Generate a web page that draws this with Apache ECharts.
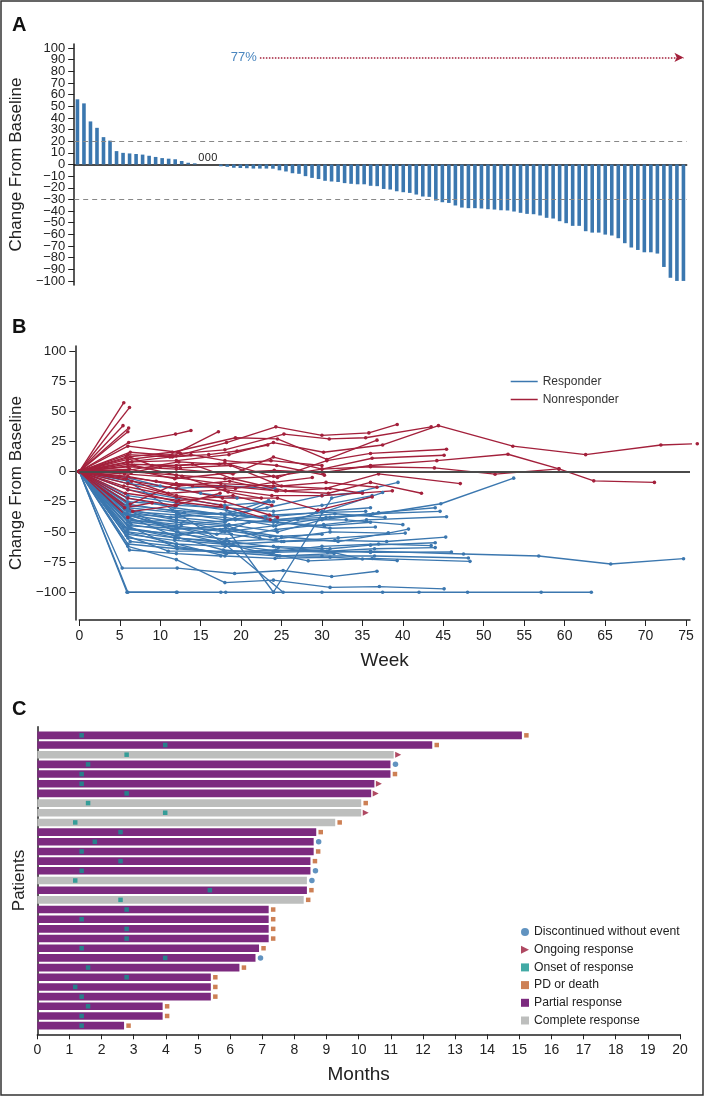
<!DOCTYPE html>
<html><head><meta charset="utf-8">
<script src="https://cdn.jsdelivr.net/npm/echarts@6/dist/echarts.min.js"></script>
<style>html,body{margin:0;padding:0;background:#fff}#c{width:708px;height:1097px}</style>
</head><body><div id="c"></div>
<script>
// ---------- Panel A: waterfall ----------
const waterfallValues = [56, 52.5, 37, 31.5, 23.5, 20.5, 11.5, 10, 9.5, 9, 8.5, 7.5, 6.5, 5.5, 5, 4.5, 3, 1.5, 1,
  0, 0, 0,
  -1.5, -2, -2.8, -3, -3.2, -3.5, -3.5, -3.5, -3.6, -5, -6, -7.5, -8, -10, -11.5, -12.5, -14, -14.6, -15, -16, -16.6, -17,
  -17, -18.3, -18.6, -21, -21.5, -23, -23.8, -24.4, -25.8, -27.5, -27.8, -31, -32.4, -33, -35.2, -37, -37.5, -37.5, -37.8,
  -38.4, -38.7, -39.3, -39.5, -40.4, -41.5, -42.4, -42.7, -43.8, -45.8, -46.4, -48.7, -50.4, -52.7, -52.7, -57.3, -58.5,
  -58.5, -60.2, -61, -63.3, -67.6, -71.3, -73.4, -75.4, -75.4, -76.5, -88, -97.3, -100, -100];
const waterfallTicks = [100, 90, 80, 70, 60, 50, 40, 30, 20, 10, 0, -10, -20, -30, -40, -50, -60, -70, -80, -90, -100];
const thresholdLines = [20, -30];
const responseRateLabel = '77%';
const responseArrowLevel = 92;

// ---------- Panel B: spider plot ----------
const weekTicks = [0, 5, 10, 15, 20, 25, 30, 35, 40, 45, 50, 55, 60, 65, 70, 75];
const changeTicks = [100, 75, 50, 25, 0, -25, -50, -75, -100];
const responderCurves = [
  [[0,0],[5.9,-100],[12,-100],[17.5,-100],[18.1,-100],[24,-100],[30,-100],[37.5,-100],[42,-100],[48,-100],[57.1,-100],[63.3,-100]],
  [[0,0],[6,-100],[12.1,-100]],
  [[0,0],[5.3,-80],[12.1,-80],[19.2,-84.5],[25.2,-82],[31.2,-87],[36.8,-82.6]],
  [[0,0],[6,-62],[12,-73],[18,-92],[24,-90],[31,-96],[37.1,-95.3],[45.1,-97.2]],
  [[0,0],[5.8,-53],[11,-66],[18,-66],[24,-66],[30,-65],[35,-72.5]],
  [[0,0],[6,-45],[12,-63],[18,-67],[24.3,-65],[30.7,-67],[36,-66],[47.5,-68.3],[56.8,-70],[65.7,-76.6],[74.7,-72.2]],
  [[0,0],[6,-33],[12,-40],[18.5,-50],[24,-100],[31.2,-22],[39.4,-9]],
  [[0,0],[6,-8],[12.3,-35],[18,-60],[25.2,-100]],
  [[0,0],[6,-10],[12,-14],[18,-12],[24.2,-14]],
  [[0,0],[5.5,-35],[12,-38],[18,-42],[23.5,-25]],
  [[0,0],[6,-30],[12,-34],[18,-40],[24,-36],[30,-34],[37.5,-17.4]],
  [[0,0],[6,-40],[12,-45],[18,-50],[24,-45],[31,-38],[36,-36],[44.7,-26.7],[53.7,-5.5]],
  [[0,0],[6.2,-42],[12,-40],[18.5,-44],[24.5,-50],[30,-40],[37,-34],[44,-30]],
  [[0,0],[5.8,-35],[11.5,-48],[18,-45],[23.5,-40],[30.5,-38],[36.3,-35],[44.6,-33]],
  [[0,0],[6,-48],[12.5,-52],[18.2,-56],[24.3,-48],[30.2,-44],[35.5,-40],[45.4,-37.5]],
  [[0,0],[6,-50],[11.8,-55],[18,-58],[24.3,-56],[31,-50],[38.2,-51],[40.7,-47.7]],
  [[0,0],[6.4,-44],[12.2,-50],[18.8,-52],[25,-58],[32,-55],[40.3,-51]],
  [[0,0],[5.5,-46],[12,-55],[19,-60],[25.3,-58],[31.6,-57],[38,-58],[45.3,-54.3]],
  [[0,0],[6,-55],[12,-60],[18,-62],[24,-62],[31,-64],[36,-61],[44,-59]],
  [[0,0],[6,-52],[11.8,-57],[17.7,-60],[24.5,-66],[30,-62],[37,-60],[43.5,-61.4]],
  [[0,0],[6.3,-58],[12,-62],[18.2,-68],[24,-67],[30.8,-66],[36.5,-64],[44,-63]],
  [[0,0],[5.8,-36],[12,-46],[18.5,-58],[24.6,-63],[30.6,-66],[36,-67],[46,-66.7]],
  [[0,0],[6,-32],[12,-50],[18,-60],[24.5,-70],[30,-70],[36.5,-70],[48.1,-71.6]],
  [[0,0],[6.2,-38],[12.3,-55],[17.8,-65],[23.8,-68],[28.3,-74],[36.2,-72],[48.3,-74.4]],
  [[0,0],[5.7,-50],[12,-60],[18,-70],[24.2,-72],[31,-71],[39.3,-73.8]],
  [[0,0],[6.3,-33],[12,-36],[18,-38],[24.3,-45],[30,-33],[36,-30]],
  [[0,0],[5.8,-28],[11.5,-32],[17.5,-35],[23,-38],[29.3,-34],[35.4,-33]],
  [[0,0],[6,-25],[12,-28],[18,-30],[24,-33],[30,-28],[36.2,-20]],
  [[0,0],[6.5,-40],[12.6,-44],[19.3,-40],[24,-42],[30.3,-45],[36,-42]],
  [[0,0],[6.1,-45],[12,-47],[17.4,-48],[23.6,-54],[30,-52]],
  [[0,0],[5.6,-31],[11.3,-38],[18.6,-34],[23.4,-24]],
  [[0,0],[6.3,-36],[12,-42],[18.4,-45],[22.3,-55]],
  [[0,0],[6,-20],[12,-26],[18.2,-32],[24.5,-42],[31,-47],[36.6,-46]],
  [[0,0],[5.9,-22],[11.8,-30],[18,-36],[23.2,-30],[30,-20],[35,-17]],
  [[0,0],[6,-60],[12.1,-64],[18,-67],[24.8,-70],[31.5,-68]],
  [[0,0],[6.2,-47],[12,-53],[18.1,-47],[25,-54],[32,-58],[38.2,-51]],
  [[0,0],[6,-42],[12,-46],[17,-52],[21,-42],[27,-40],[33,-40],[40,-44]],
  [[0,0],[6,-27],[13,-34],[19,-36],[24.2,-40],[31.6,-35],[37.8,-38]],
  [[0,0],[6,-15],[12,-22],[18,-28],[24,-25]],
  [[0,0],[6.2,-65],[12,-68],[17.5,-70]],
  [[0,0],[5.9,-5],[10,-12],[15,-18],[19.5,-22]]
];
const nonresponderCurves = [
  [[0,0],[5.5,57]],
  [[0,0],[6.2,53]],
  [[0,0],[5.4,38]],
  [[0,0],[6.1,36]],
  [[0,0],[6.0,33]],
  [[0,0],[6.1,24],[11.9,31],[13.8,34]],
  [[0,0],[6.0,21],[12.2,16],[17.2,33]],
  [[0,0],[6.3,16],[12,13],[18.2,24],[24.3,37],[30,30],[35.8,32],[39.3,39]],
  [[0,0],[5.8,12],[11.5,16],[19.3,28],[24.5,27],[30.6,10],[36.8,26]],
  [[0,0],[6,10],[12.5,15],[18,18],[25.3,31],[30.9,27],[35.4,28],[43.5,37]],
  [[0,0],[6.5,8],[12,9],[18.5,14],[24,24],[30.2,16],[37.5,22],[44.4,38],[53.6,21],[62.6,14],[71.9,22],[76.4,23]],
  [[0,0],[6,6],[12,5],[18,7],[24.5,-5],[30.6,9],[36,15],[45.4,18.5]],
  [[0,0],[6,4],[12,2],[19,-2],[24,12],[30,2],[36.2,11],[45.1,13.5]],
  [[0,0],[6.2,2],[11.8,-6],[18.8,-1],[24.1,1],[30.1,-1],[36,5],[44.2,9],[53,14.3],[59.3,2.2],[63.6,-7.7],[71.1,-9]],
  [[0,0],[6,0],[12,-3],[18,-6],[24,-4],[30,2],[36,4],[43.9,3],[51.4,-2.2],[59.3,2.2]],
  [[0,0],[5.6,-2],[12,-5],[17.5,-10],[24,-12],[30.5,-14],[37,-2],[47.1,-10]],
  [[0,0],[6,-4],[12.3,-12],[18.6,-8],[24.3,-16],[30.8,-18],[36,-9],[42.3,-18]],
  [[0,0],[5.8,-6],[11,-18],[18,-15],[23.8,-20],[30,-20],[38.7,-16]],
  [[0,0],[6.5,-8],[12,-14],[17.7,-22],[24.5,-22],[29.5,-32],[36.2,-21]],
  [[0,0],[6,-10],[12,-20],[18,-25],[23.5,-36],[24.5,-38]],
  [[0,0],[5.5,-12],[12,-21],[17.5,-28],[23.6,-40]],
  [[0,0],[6,-15],[12,-25],[18.3,-30]],
  [[0,0],[5.7,-18],[12.3,-24],[19,-20],[23.8,-28]],
  [[0,0],[6,-22],[11.8,-28],[17.4,-18]],
  [[0,0],[6.3,-27],[12,-10],[18,-12],[24.5,-16]],
  [[0,0],[5.6,-30],[9,-26]],
  [[0,0],[6,-38]],
  [[0,0],[6.6,-33],[12,-28]],
  [[0,0],[6.3,12],[9,5],[12.5,3],[18.7,5],[25,-12],[30.5,-9],[36.8,-13]],
  [[0,0],[6,14],[11.5,12],[13.8,14],[18,9],[24.4,5],[30.3,-3]],
  [[0,0],[5.9,8],[11.2,12],[16,14],[19.5,17],[23.3,22]],
  [[0,0],[6.4,-1],[10,4],[14,6],[19,-6],[25.5,-16],[31,-14],[35,-18]],
  [[0,0],[5,-4],[9.5,-8],[14,-12],[19.3,-14],[24,-9],[28.8,-5]],
  [[0,0],[6.8,5],[12.7,-4],[18.4,-17],[22.5,-22]],
  [[0,0],[6,1],[12.3,8],[17.3,6],[23.7,9],[30,5]]
];

// ---------- Panel C: swimmer plot ----------
const monthTicks = [0,1,2,3,4,5,6,7,8,9,10,11,12,13,14,15,16,17,18,19,20];
const patientEndMonth = [15.08, 12.29, 11.09, 10.99, 10.99, 10.49, 10.39, 10.08, 10.08, 9.27, 8.68, 8.6, 8.6, 8.5, 8.5, 8.39,
  8.39, 8.29, 7.2, 7.2, 7.2, 7.2, 6.9, 6.79, 6.29, 5.4, 5.4, 5.4, 3.9, 3.9, 2.7];
const patientResponse = ['PR','PR','CR','PR','PR','PR','PR','CR','CR','CR','PR','PR','PR','PR','PR','CR',
  'PR','CR','PR','PR','PR','PR','PR','PR','PR','PR','PR','PR','PR','PR','PR'];
const onsetMonth = [1.38, 3.98, 2.78, 1.58, 1.38, 1.38, 2.78, 1.58, 3.98, 1.18, 2.59, 1.79, 1.38, 2.59, 1.38, 1.18,
  5.37, 2.59, 2.78, 1.38, 2.78, 2.78, 1.38, 3.98, 1.58, 2.78, 1.18, 1.38, 1.58, 1.38, 1.38];
const endEvent = ['PD','PD','Ongoing','Disc','PD','Ongoing','Ongoing','PD','Ongoing','PD','PD','Disc','PD','PD','Disc','Disc',
  'PD','PD','PD','PD','PD','PD','PD','Disc','PD','PD','PD','PD','PD','PD','PD'];

const FONT = 'Liberation Sans';
const BLUE = '#3b77af', RED = '#a3203b';
const PURPLE = '#7c2a7f', GRAY = '#bdbebd', TEAL = '#13958f', ORANGE = '#c0602a', DRED = '#9b1b3b', DBLUE = '#3a78b0';
const TRI = 'path://M0,0L10,5L0,10Z';
const fmtNum = v => v < 0 ? '\u2212' + Math.abs(v) : String(v);

const chart = echarts.init(document.getElementById('c'), null, {renderer: 'canvas'});

const patientIdx = patientEndMonth.map((_, i) => String(i));
const lastBar = waterfallValues.length - 1;
// split tick labels into two interleaved sets so none get auto-hidden
const waterfallTicksA = waterfallTicks.filter((_, i) => i % 2 === 0);
const waterfallTicksB = waterfallTicks.filter((_, i) => i % 2 === 1);
const series = [];

// Panel A bars
series.push({
  type: 'bar', xAxisIndex: 0, yAxisIndex: 0, barWidth: 3.6,
  itemStyle: {color: BLUE},
  data: waterfallValues.map(v => v === 0 ? {value: 0, label: {show: true, position: 'top', distance: 1, formatter: '0', fontSize: 11, color: '#222', fontFamily: FONT}} : v),
  markLine: {
    silent: true, symbol: 'none',
    data: thresholdLines.map(t => ({yAxis: t, lineStyle: {color: '#888', type: [5, 4], width: 1}, label: {show: false}}))
  }
});
// Panel A: response-rate arrow (annotation)
series.push({
  type: 'line', xAxisIndex: 0, yAxisIndex: 0, data: [], silent: true,
  markLine: {
    silent: true, symbol: ['none', 'arrow'], symbolSize: [7, 9],
    lineStyle: {color: RED, type: [1.5, 1.5], width: 1.6},
    label: {show: true, position: 'start', formatter: responseRateLabel, color: '#4a86bf', fontSize: 13, fontFamily: FONT, distance: 3},
    data: [[{coord: ['28', responseArrowLevel]}, {coord: [String(lastBar), responseArrowLevel]}]]
  }
});

// Panel B lines
const mkLine = (d, name, color) => ({
  type: 'line', name, xAxisIndex: 1, yAxisIndex: 1, data: d, clip: false,
  symbol: 'circle', symbolSize: 3.6, showSymbol: true,
  lineStyle: {width: 1.35, color}, itemStyle: {color},
  emphasis: {disabled: true}, z: 2
});
const firstB = series.length;
responderCurves.forEach(d => series.push(mkLine(d, 'Responder', BLUE)));
nonresponderCurves.forEach(d => series.push(mkLine(d, 'Nonresponder', RED)));
series[firstB].markLine = {silent: true, symbol: 'none', data: [{yAxis: 0}], lineStyle: {color: '#4a4a4a', width: 2, type: 'solid'}, label: {show: false}};

// Panel C
series.push({
  type: 'bar', name: 'Partial response', xAxisIndex: 2, yAxisIndex: 2, stack: 'dur', barWidth: 7.6,
  itemStyle: {color: PURPLE},
  data: patientEndMonth.map((v, i) => patientResponse[i] === 'PR' ? v : '-')
});
series.push({
  type: 'bar', name: 'Complete response', xAxisIndex: 2, yAxisIndex: 2, stack: 'dur', barWidth: 7.6,
  itemStyle: {color: GRAY},
  data: patientEndMonth.map((v, i) => patientResponse[i] === 'CR' ? v : '-')
});
series.push({
  type: 'scatter', name: 'Onset of response', xAxisIndex: 2, yAxisIndex: 2, symbol: 'rect', symbolSize: 4.5,
  itemStyle: {color: TEAL}, z: 5,
  data: onsetMonth.map((m, i) => [m, i])
});
series.push({
  type: 'scatter', name: 'PD or death', xAxisIndex: 2, yAxisIndex: 2, symbol: 'rect', symbolSize: 4.5, symbolOffset: [4.5, 0],
  itemStyle: {color: ORANGE}, z: 5,
  data: patientEndMonth.map((m, i) => endEvent[i] === 'PD' ? [m, i] : null).filter(Boolean)
});
series.push({
  type: 'scatter', name: 'Ongoing response', xAxisIndex: 2, yAxisIndex: 2, symbol: TRI, symbolSize: [6, 6], symbolOffset: [4.5, 0],
  itemStyle: {color: DRED}, z: 5,
  data: patientEndMonth.map((m, i) => endEvent[i] === 'Ongoing' ? [m, i] : null).filter(Boolean)
});
series.push({
  type: 'scatter', name: 'Discontinued without event', xAxisIndex: 2, yAxisIndex: 2, symbol: 'circle', symbolSize: 5.5, symbolOffset: [5, 0],
  itemStyle: {color: DBLUE}, z: 5,
  data: patientEndMonth.map((m, i) => endEvent[i] === 'Disc' ? [m, i] : null).filter(Boolean)
});
series.push({type: 'scatter', xAxisIndex: 3, yAxisIndex: 3, data: []});
series.push({type: 'scatter', xAxisIndex: 0, yAxisIndex: 4, data: []});

const axisTxt = {color: '#222', fontSize: 13, fontFamily: FONT};
const nameTxt = {color: '#222', fontSize: 17, fontFamily: FONT};
const blackLine = {show: true, onZero: false, lineStyle: {color: '#222', width: 1.5}};

chart.setOption({
  animation: false,
  textStyle: {fontFamily: FONT},
  grid: [
    {left: 73.7, top: 44, width: 613, height: 241},
    {left: 77, top: 346, width: 613, height: 274},
    {left: 37.3, top: 730.5, width: 642.7, height: 300},
    {left: 37.3, top: 726.7, width: 642.7, height: 307.6}
  ],
  xAxis: [
    {type: 'category', gridIndex: 0, data: waterfallValues.map((_, i) => String(i)),
     axisLine: {show: true, onZero: true, lineStyle: {color: '#111', width: 1.5}}, axisTick: {show: false}, axisLabel: {show: false}},
    {type: 'value', gridIndex: 1, min: 0, max: 75.5, splitLine: {show: false},
     axisLine: blackLine, axisTick: {show: true, length: 6, customValues: weekTicks, lineStyle: {color: '#222'}},
     axisLabel: {customValues: weekTicks, margin: 9, fontSize: 14, color: '#222', fontFamily: FONT},
     name: 'Week', nameLocation: 'middle', nameGap: 31, nameTextStyle: {color: '#222', fontSize: 19, fontFamily: FONT}},
    {type: 'value', gridIndex: 2, min: 0, max: 20, show: false},
    {type: 'value', gridIndex: 3, min: 0, max: 20, interval: 1, splitLine: {show: false},
     axisLine: blackLine, axisTick: {show: true, length: 5, lineStyle: {color: '#222'}},
     axisLabel: Object.assign({margin: 9}, axisTxt, {fontSize: 14}),
     name: 'Months', nameLocation: 'middle', nameGap: 31, nameTextStyle: {color: '#222', fontSize: 19, fontFamily: FONT}}
  ],
  yAxis: [
    {type: 'value', gridIndex: 0, position: 'left', min: -103.5, max: 103.5, splitLine: {show: false},
     axisLine: blackLine, axisTick: {show: true, length: 6, customValues: waterfallTicks, lineStyle: {color: '#222'}},
     axisLabel: Object.assign({customValues: waterfallTicksA, formatter: fmtNum, margin: 9, showMinLabel: true, showMaxLabel: true}, axisTxt),
     name: 'Change From Baseline', nameLocation: 'middle', nameGap: 46, nameTextStyle: nameTxt},
    {type: 'value', gridIndex: 1, min: -123, max: 104, offset: 4, splitLine: {show: false},
     axisLine: blackLine, axisTick: {show: true, length: 6, customValues: changeTicks, lineStyle: {color: '#222'}},
     axisLabel: Object.assign({customValues: changeTicks, formatter: fmtNum, margin: 9, showMinLabel: true, showMaxLabel: true}, axisTxt, {fontSize: 13.5}),
     name: 'Change From Baseline', nameLocation: 'middle', nameGap: 45, nameTextStyle: nameTxt},
    {type: 'category', gridIndex: 2, data: patientIdx, inverse: true, show: false},
    {type: 'value', gridIndex: 3, min: 0, max: 1, splitLine: {show: false},
     axisLine: blackLine, axisTick: {show: false}, axisLabel: {show: false},
     name: 'Patients', nameLocation: 'middle', nameGap: 9, nameTextStyle: nameTxt},
    {type: 'value', gridIndex: 0, position: 'left', offset: 0, min: -103.5, max: 103.5, splitLine: {show: false},
     axisLine: {show: false, onZero: false}, axisTick: {show: false},
     axisLabel: Object.assign({customValues: waterfallTicksB, formatter: fmtNum, margin: 9, showMinLabel: true, showMaxLabel: true}, axisTxt)}
  ],
  legend: [
    {data: ['Responder', 'Nonresponder'], orient: 'vertical', left: 505.7, top: 369.5, icon: 'rect',
     itemWidth: 27, itemHeight: 1.5, itemGap: 4, selectedMode: false,
     textStyle: {color: '#333', fontSize: 12, lineHeight: 14, fontFamily: FONT}},
    {data: [
       {name: 'Discontinued without event', icon: 'circle'},
       {name: 'Ongoing response', icon: TRI},
       {name: 'Onset of response', icon: 'rect'},
       {name: 'PD or death', icon: 'rect'},
       {name: 'Partial response', icon: 'rect'},
       {name: 'Complete response', icon: 'rect'}],
     orient: 'vertical', left: 516, top: 920, itemWidth: 8, itemHeight: 8, itemGap: 3.7, selectedMode: false,
     textStyle: {color: '#222', fontSize: 12.2, lineHeight: 14, fontFamily: FONT}}
  ],
  graphic: [
    {type: 'rect', shape: {x: 1, y: 1, width: 702, height: 1094}, style: {fill: 'none', stroke: '#333', lineWidth: 1.5}, silent: true},
    {type: 'text', left: 12, top: 15, style: {text: 'A', font: 'bold 20px "Liberation Sans"', fill: '#111'}},
    {type: 'text', left: 12, top: 317, style: {text: 'B', font: 'bold 20px "Liberation Sans"', fill: '#111'}},
    {type: 'text', left: 12, top: 699, style: {text: 'C', font: 'bold 20px "Liberation Sans"', fill: '#111'}}
  ],
  series
});
</script>
</body></html>
